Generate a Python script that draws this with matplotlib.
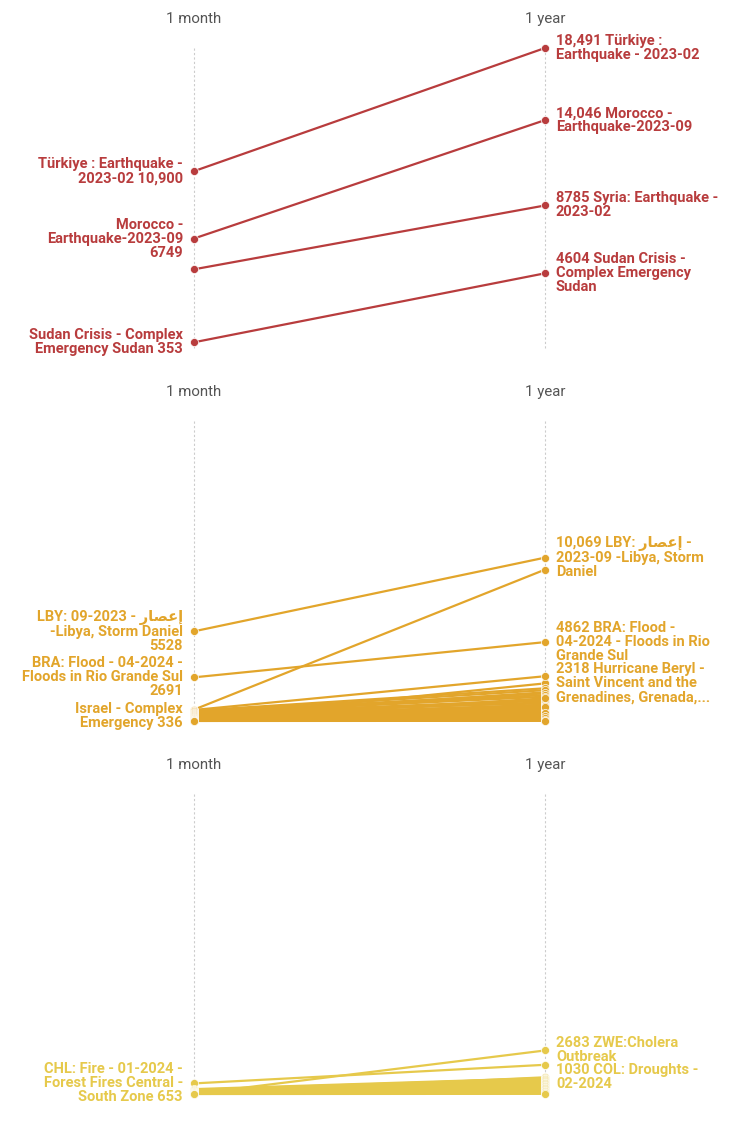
import matplotlib
matplotlib.use("Agg")
import matplotlib.pyplot as plt

plt.rcParams['font.family'] = ['Roboto', 'DejaVu Sans']

# Arabic word in visual (left-to-right) order with presentation forms
AR = "\ufead\ufe8e\ufebc\ufecb\ufe87"

col_labels = ["1 month", "1 year"]

# Panel 1 - red
p1_month = [10900, 6749, 4850, 353]
p1_year = [18491, 14046, 8785, 4604]
p1_left = ["Türkiye : Earthquake -\n2023-02 10,900",
           "Morocco -\nEarthquake-2023-09\n6749",
           None,
           "Sudan Crisis - Complex\nEmergency Sudan 353"]
p1_right = ["18,491 Türkiye :\nEarthquake - 2023-02",
            "14,046 Morocco -\nEarthquake-2023-09",
            "8785 Syria: Earthquake -\n2023-02",
            "4604 Sudan Crisis -\nComplex Emergency\nSudan"]

# Panel 2 - orange
p2_month = [5528, 700, 2691, 336, 150,
            680, 640, 600, 560, 520, 480, 450, 420, 380, 350, 300, 280, 250, 220,
            200, 180, 160, 140, 120, 100, 90, 80, 70, 60, 50, 45, 40, 35, 30, 25,
            20, 15, 10, 8, 5, 3]
p2_year = [10069, 9330, 4862, 1767, 2318,
           2760, 2015, 1085, 1900, 1700, 1600, 1500, 1300, 1250, 1150, 1000, 950, 650, 900,
           780, 700, 600, 560, 400, 480, 1395, 440, 350, 837, 260, 220, 520, 150, 100, 120,
           300, 80, 200, 50, 30, 10]
p2_left = ["LBY: 09-2023 - " + AR + "\n-Libya, Storm Daniel\n5528",
           None,
           "BRA: Flood - 04-2024 -\nFloods in Rio Grande Sul\n2691",
           "Israel - Complex\nEmergency 336"]
p2_right = ["10,069 LBY: " + AR + " -\n2023-09 -Libya, Storm\nDaniel",
            None,
            "4862 BRA: Flood -\n04-2024 - Floods in Rio\nGrande Sul",
            None,
            "2318 Hurricane Beryl -\nSaint Vincent and the\nGrenadines, Grenada,..."]

# Panel 3 - yellow
p3_month = [653, 10, 30,
            300, 260, 220, 200, 180, 150, 130, 120, 100, 90, 80, 70, 60, 50, 45, 40,
            30, 25, 20, 15, 10, 5, 0]
p3_year = [1800, 2683, 1030,
           980, 950, 900, 870, 820, 760, 700, 650, 600, 560, 520, 480, 430, 390, 350, 300,
           250, 200, 160, 120, 80, 40, 10]
p3_left = ["CHL: Fire - 01-2024 -\nForest Fires Central -\nSouth Zone 653"]
p3_right = [None,
            "2683 ZWE:Cholera\nOutbreak",
            "1030 COL: Droughts -\n02-2024"]

ymax = max(p1_year)

panels = [
    (p1_month, p1_year, p1_left, p1_right, "#b83c3d", 348),
    (p2_month, p2_year, p2_left, p2_right, "#e2a52b", 721),
    (p3_month, p3_year, p3_left, p3_right, "#e6c94b", 1094),
]

W, H = 739, 1126
fig = plt.figure(figsize=(W / 100, H / 100), dpi=100)
x0, x1 = 194, 545
panel_h = 300

for month, year, left, right, color, zero_px in panels:
    ax = fig.add_axes([x0 / W, (H - zero_px) / H, (x1 - x0) / W, panel_h / H])
    ax.set_xlim(0, 1)
    ax.set_ylim(0, ymax)
    ax.axis('off')

    # dotted guides
    for x in (0, 1):
        ax.plot([x, x], [0, ymax], color="#cccccc", lw=0.8, ls=(0, (2, 2)), clip_on=False, zorder=0)

    # column headers
    for x, lab in zip((0, 1), col_labels):
        ax.annotate(lab, xy=(x, ymax), xytext=(0, 29), textcoords='offset pixels',
                    ha='center', va='center', fontsize=10.8, color="#555555")

    # lines
    for m, y in zip(month, year):
        ax.plot([0, 1], [m, y], color=color, lw=1.6, clip_on=False, zorder=2,
                solid_capstyle='butt')
    for m, y in zip(month, year):
        ax.plot([0, 1], [m, y], ls='none', marker='o', ms=5.8, mfc=color, mec='white',
                mew=0.5, clip_on=False, zorder=3)

    # labels
    for i, lt in enumerate(left):
        if lt:
            ax.annotate(lt, xy=(0, month[i]), xytext=(-11, 0), textcoords='offset pixels',
                        ha='right', va='center', ma='right', fontsize=10.5,
                        fontweight='bold', color=color, linespacing=1.0)
    for i, rt in enumerate(right):
        if rt:
            ax.annotate(rt, xy=(1, year[i]), xytext=(11, 0), textcoords='offset pixels',
                        ha='left', va='center', ma='left', fontsize=10.5,
                        fontweight='bold', color=color, linespacing=1.0)

fig.savefig("out.png", dpi=100)
